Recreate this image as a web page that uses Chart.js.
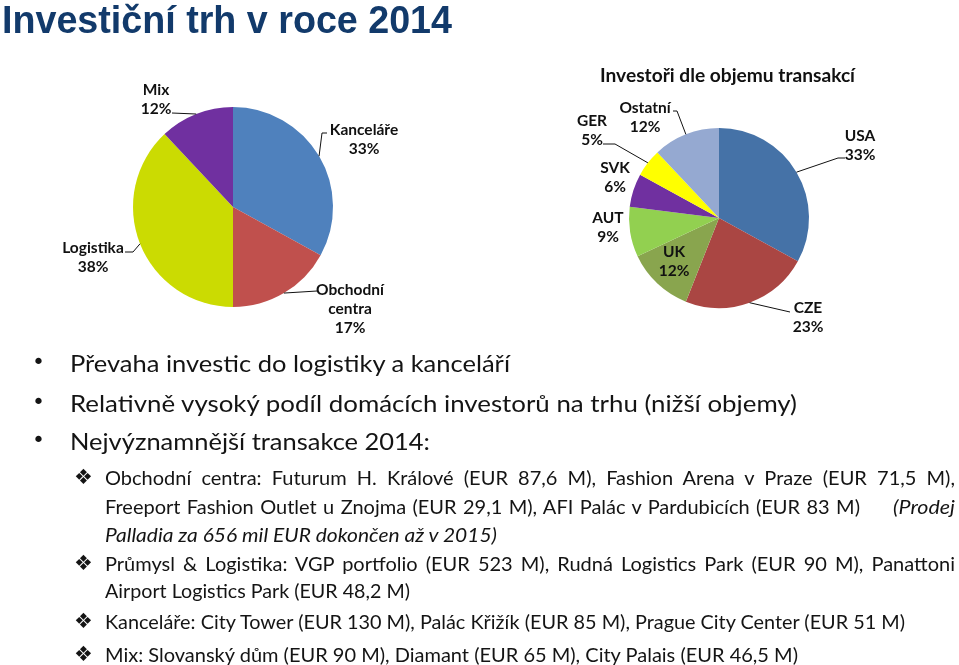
<!DOCTYPE html>
<html>
<head>
<meta charset="utf-8">
<script src="https://cdn.jsdelivr.net/npm/chart.js@4/dist/chart.umd.min.js"></script>
<style>
  html, body { margin:0; padding:0; background:#fff; }
  body { width:959px; height:665px; position:relative; overflow:hidden; }
  canvas { position:absolute; left:0; top:0; }
  .t { position:absolute; white-space:nowrap; color:#141414; transform-origin:0 50%; }
  .title { position:absolute; left:2px; top:0px; font:bold 38px "Liberation Sans", Arial, sans-serif; color:#123a6b; line-height:40px; white-space:nowrap; transform-origin:0 50%; }
  .main { font-family: Lato, "Open Sans", sans-serif; font-size:24px; line-height:30px; }
  .sub { font-family: Lato, "Open Sans", sans-serif; font-size:20px; line-height:26px; }
  .sub2 { font-family: Lato, "Open Sans", sans-serif; font-size:20px; line-height:26px; }
  .dot { position:absolute; font:22px "DejaVu Sans", sans-serif; line-height:30px; color:#141414; }
  .dia { position:absolute; font:21px "DejaVu Sans", sans-serif; line-height:26px; color:#141414; }
  .ctitle { position:absolute; font-family: Lato, sans-serif; font-weight:bold; font-size:18.5px; line-height:22px; color:#111; white-space:nowrap; transform-origin:0 50%; }
</style>
</head>
<body>
<canvas id="left" width="959" height="665"></canvas>
<canvas id="right" width="959" height="665"></canvas>

<div class="title" data-w="450">Investiční trh v roce 2014</div>
<div class="ctitle" style="left:600px; top:64px;" data-w="255">Investoři dle objemu transakcí</div>

<div class="dot" style="left:32px; top:347px;">•</div>
<div class="t main" style="left:70px; top:348px;" data-w="440">Převaha investic do logistiky a kanceláří</div>
<div class="dot" style="left:32px; top:387px;">•</div>
<div class="t main" style="left:70px; top:388px;" data-w="727">Relativně vysoký podíl domácích investorů na trhu (nižší objemy)</div>
<div class="dot" style="left:32px; top:425px;">•</div>
<div class="t main" style="left:70px; top:426px;" data-w="360">Nejvýznamnější transakce 2014:</div>

<div class="dia" style="left:74px; top:464px;">❖</div>
<div class="t sub" style="left:105px; top:464px;" data-w="850" data-j="1">Obchodní centra: Futurum H. Králové (EUR 87,6 M), Fashion Arena v Praze (EUR 71,5 M),</div>
<div class="t sub" style="left:105px; top:493px;" data-w="755" data-j="1">Freeport Fashion Outlet u Znojma (EUR 29,1 M), AFI Palác v Pardubicích (EUR 83 M)</div>
<div class="t sub" style="left:893px; top:493px; font-style:italic;" data-w="62">(Prodej</div>
<div class="t sub" style="left:105px; top:521px; font-style:italic;" data-w="392">Palladia za 656 mil EUR dokončen až v 2015)</div>

<div class="dia" style="left:74px; top:550px;">❖</div>
<div class="t sub2" style="left:105px; top:550px;" data-w="850" data-j="1">Průmysl &amp; Logistika: VGP portfolio (EUR 523 M), Rudná Logistics Park (EUR 90 M), Panattoni</div>
<div class="t sub2" style="left:105px; top:577px;" data-w="305">Airport Logistics Park (EUR 48,2 M)</div>

<div class="dia" style="left:74px; top:608px;">❖</div>
<div class="t sub2" style="left:105px; top:608px;" data-w="800">Kanceláře: City Tower (EUR 130 M), Palác Křižík (EUR 85 M), Prague City Center (EUR 51 M)</div>

<div class="dia" style="left:74px; top:641px;">❖</div>
<div class="t sub2" style="left:105px; top:641px;" data-w="693">Mix: Slovanský dům (EUR 90 M), Diamant (EUR 65 M), City Palais (EUR 46,5 M)</div>

<script>
// ---- Data ----
const sectorCategories = ['Kanceláře', 'Obchodní centra', 'Logistika', 'Mix'];
const sectorValues = [33, 17, 38, 12];
const sectorColors = ['#4f81bd', '#c0504d', '#cbdb02', '#7030a0'];

const investorCategories = ['USA', 'CZE', 'UK', 'AUT', 'SVK', 'GER', 'Ostatní'];
const investorValues = [33, 23, 12, 9, 6, 5, 12];
const investorColors = ['#4572a7', '#aa4643', '#89a54e', '#92d050', '#7030a0', '#ffff00', '#95a9d1'];

// ---- Label layout (offsets from pie centre, px) ----
const sectorLabelLayout = [
  { pos: [131, -67.5], leader: [[89, -74], [94, -74]] },
  { pos: [117, 102], leader: [[84, 84]] },
  { pos: [-140, 50.5], leader: [[-100, 45], [-108, 45]] },
  { pos: [-77, -108], leader: [[-61, -94]] }
];
const investorLabelLayout = [
  { pos: [141, -73], leader: [[119, -60], [126, -60]] },
  { pos: [89, 99.5], leader: [[71, 94]] },
  { pos: [-45, 43.5], leader: null },
  { pos: [-111, 9], leader: null },
  { pos: [-104, -40.5], leader: null },
  { pos: [-127, -87.5], leader: [[-104, -74], [-116, -74]] },
  { pos: [-74, -100.5], leader: [[-42, -107], [-46, -107]] }
];

function makeLabelPlugin(layout) {
  return {
    id: 'sliceLabels',
    afterDatasetsDraw(chart) {
      const ctx = chart.ctx;
      const meta = chart.getDatasetMeta(0);
      const data = chart.data.datasets[0].data;
      const total = data.reduce((a, b) => a + b, 0);
      ctx.save();
      ctx.font = 'bold 15.5px Lato, sans-serif';
      ctx.fillStyle = '#111';
      ctx.strokeStyle = '#111';
      ctx.lineWidth = 1;
      ctx.textAlign = 'center';
      ctx.textBaseline = 'middle';
      meta.data.forEach((arc, i) => {
        const p = arc.getProps(['x', 'y', 'startAngle', 'endAngle', 'outerRadius'], true);
        const mid = (p.startAngle + p.endAngle) / 2;
        const ax = p.x + Math.cos(mid) * p.outerRadius;
        const ay = p.y + Math.sin(mid) * p.outerRadius;
        const L = layout[i];
        if (L.leader) {
          ctx.beginPath();
          ctx.moveTo(ax, ay);
          L.leader.forEach(q => ctx.lineTo(p.x + q[0], p.y + q[1]));
          ctx.stroke();
        }
        const pct = Math.round(data[i] / total * 100) + '%';
        const lines = chart.data.labels[i].split(' ').concat([pct]);
        const lh = 19;
        const cx = p.x + L.pos[0], cy = p.y + L.pos[1];
        lines.forEach((t, k) => ctx.fillText(t, cx, cy + (k - (lines.length - 1) / 2) * lh));
      });
      ctx.restore();
    }
  };
}

function pie(id, labels, values, colors, layout, padding) {
  return new Chart(document.getElementById(id), {
    type: 'pie',
    data: { labels: labels, datasets: [{ data: values, backgroundColor: colors, borderWidth: 0, hoverOffset: 0 }] },
    options: {
      responsive: false, animation: false, devicePixelRatio: 1,
      layout: { padding: padding },
      plugins: { legend: { display: false }, tooltip: { enabled: false } },
      events: []
    },
    plugins: [makeLabelPlugin(layout)]
  });
}

pie('left', sectorCategories, sectorValues, sectorColors, sectorLabelLayout,
    { left: 133, right: 626, top: 107, bottom: 358 });
pie('right', investorCategories, investorValues, investorColors, investorLabelLayout,
    { left: 629, right: 150, top: 128, bottom: 357 });

// ---- fit text lines to reference widths ----
document.fonts.ready.then(() => {
  document.querySelectorAll('[data-w]').forEach(el => {
    const w = +el.dataset.w;
    const nat = el.getBoundingClientRect().width;
    if (el.dataset.j && nat < w) {
      el.style.width = w + 'px';
      el.style.whiteSpace = 'normal';
      el.style.textAlign = 'justify';
      el.style.textAlignLast = 'justify';
    } else {
      el.style.transform = 'scaleX(' + (w / nat) + ')';
    }
  });
});
</script>
</body>
</html>
